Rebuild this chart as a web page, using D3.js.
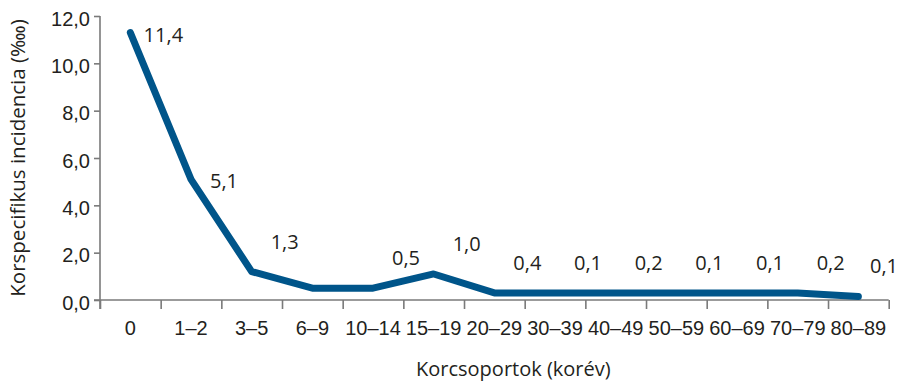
<!DOCTYPE html>
<html>
<head>
<meta charset="utf-8">
<script src="https://cdn.jsdelivr.net/npm/d3@7"></script>
<style>
  html, body { margin: 0; padding: 0; background: #fff; }
  svg { display: block; font-family: 'Open Sans', 'Noto Sans', sans-serif; }
  .axis path, .axis line { stroke: #7a7a7a; stroke-width: 1.6; }
  .axis text { fill: #231f20; font-size: 20px; }
</style>
</head>
<body>
<svg id="chart"></svg>
<script>
const categories = ['0', '1–2', '3–5', '6–9', '10–14', '15–19', '20–29', '30–39', '40–49', '50–59', '60–69', '70–79', '80–89']
// line as drawn in the picture
const lineValues = [11.3, 5.1, 1.2, 0.5, 0.5, 1.1, 0.3, 0.3, 0.3, 0.3, 0.3, 0.3, 0.15]
// printed labels (6–9 has none)
const labelTexts = ['11,4', '5,1', '1,3', null, '0,5', '1,0', '0,4', '0,1', '0,2', '0,1', '0,1', '0,2', '0,1']
const yTicks = [0, 2, 4, 6, 8, 10, 12]

const width = 898
const height = 387
const margin = {left: 100, right: 9.3, top: 16, bottom: 87}

const svg = d3.select('#chart')
  .attr('width', width)
  .attr('height', height)

const x = d3.scaleBand()
  .domain(categories)
  .range([margin.left, width - margin.right])
  .padding(0)

const xEdges = d3.scaleLinear()
  .domain([0, categories.length])
  .range([margin.left, width - margin.right])

const y = d3.scaleLinear()
  .domain([0, 12])
  .range([height - margin.bottom, margin.top])

const fmt = d => d.toFixed(1).replace('.', ',')

// y axis
svg.append('g')
  .attr('class', 'axis')
  .attr('transform', `translate(${margin.left}, 0)`)
  .call(d3.axisLeft(y).tickValues(yTicks).tickSize(6).tickSizeOuter(0).tickPadding(4).tickFormat(fmt))
  .call(g => g.select('.domain').attr('d', `M0,${y(12)}V${y(0) + 9}`))
  .call(g => g.selectAll('.tick text').attr('dy', '0.45em'))

// x axis: boundary ticks
svg.append('g')
  .attr('class', 'axis')
  .attr('transform', `translate(0, ${y(0)})`)
  .call(d3.axisBottom(xEdges).tickValues(d3.range(categories.length + 1)).tickSize(9).tickSizeOuter(0).tickFormat(''))
  .call(g => g.select('.domain').attr('d', `M${margin.left - 6},0H${width - margin.right}`))

// x axis: category labels
svg.append('g')
  .attr('class', 'axis')
  .attr('transform', `translate(0, ${y(0)})`)
  .call(d3.axisBottom(x).tickSize(0).tickPadding(21))
  .call(g => g.select('.domain').remove())

// line
const line = d3.line()
  .x((d, i) => x(categories[i]) + x.bandwidth() / 2)
  .y(d => y(d))

svg.append('path')
  .datum(lineValues)
  .attr('d', line)
  .attr('fill', 'none')
  .attr('stroke', '#00558a')
  .attr('stroke-width', 7)
  .attr('stroke-linejoin', 'round')
  .attr('stroke-linecap', 'round')

// value labels
svg.append('g')
  .selectAll('text')
  .data(labelTexts.map((t, i) => ({t, i})).filter(d => d.t))
  .join('text')
  .attr('x', d => Math.min(x(categories[d.i]) + x.bandwidth() / 2 + 33, width - 14))
  .attr('y', d => {
    const v = lineValues[d.i]
    return v > 3 ? y(v) + 9 : y(v) - 23
  })
  .attr('text-anchor', 'middle')
  .attr('fill', '#231f20')
  .attr('font-size', 20)
  .text(d => d.t)

// titles
svg.append('text')
  .attr('x', (margin.left + width - margin.right) / 2 + 19)
  .attr('y', 376)
  .attr('text-anchor', 'middle')
  .attr('fill', '#231f20')
  .attr('font-size', 20)
  .text('Korcsoportok (korév)')

svg.append('text')
  .attr('transform', `translate(25, ${(y(0) + y(12)) / 2}) rotate(-90)`)
  .attr('text-anchor', 'middle')
  .attr('fill', '#231f20')
  .attr('font-size', 20.5)
  .text('Korspecifikus incidencia (‱)')
</script>
</body>
</html>
